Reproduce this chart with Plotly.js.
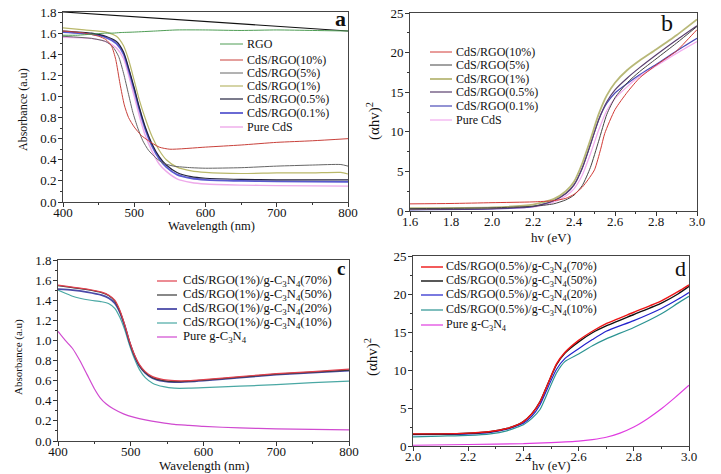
<!DOCTYPE html>
<html>
<head>
<meta charset="utf-8">
<script src="https://cdn.plot.ly/plotly-3.0.1.min.js"></script>
<style>html,body{margin:0;padding:0;background:#fff;}#chart{width:721px;height:474px;}</style>
</head>
<body>
<div id="chart"></div>
<script>
// ---------- Panel a : Absorbance vs Wavelength ----------
const aLabels = ["RGO","CdS/RGO(10%)","CdS/RGO(5%)","CdS/RGO(1%)","CdS/RGO(0.5%)","CdS/RGO(0.1%)","Pure CdS"];
const aRGO_x  = [400,420,440,460,470,480,500,530,560,600,650,700,750,800];
const aRGO_y  = [1.58,1.58,1.59,1.60,1.60,1.605,1.61,1.62,1.63,1.63,1.625,1.63,1.625,1.62];
const a10_x = [400,430,450,460,468,474,480,486,492,500,510,520,535,550,600,650,700,750,800];
const a10_y = [1.62,1.60,1.57,1.54,1.48,1.35,1.12,0.92,0.80,0.71,0.63,0.58,0.52,0.50,0.52,0.54,0.565,0.58,0.60];
const a5_x = [400,440,460,470,478,485,492,498,505,512,520,530,540,555,580,600,650,700,750,790,800];
const a5_y = [1.57,1.55,1.52,1.47,1.38,1.22,1.02,0.85,0.70,0.58,0.49,0.42,0.37,0.34,0.325,0.32,0.325,0.34,0.35,0.355,0.34];
const a1_x = [400,430,460,475,485,492,500,507,515,525,535,545,560,580,600,650,700,750,790,800];
const a1_y = [1.65,1.63,1.61,1.57,1.48,1.35,1.15,0.97,0.80,0.62,0.49,0.40,0.33,0.295,0.28,0.27,0.275,0.275,0.28,0.265];
const a05_x = [400,440,460,475,485,493,500,507,515,525,535,545,560,580,600,650,700,800];
const a05_y = [1.62,1.60,1.57,1.52,1.42,1.25,1.08,0.90,0.72,0.55,0.43,0.35,0.28,0.24,0.225,0.215,0.21,0.21];
const a01_x = [400,440,460,475,485,493,500,507,515,525,535,545,560,580,600,650,700,800];
const a01_y = [1.61,1.59,1.56,1.50,1.40,1.23,1.06,0.88,0.70,0.53,0.41,0.33,0.26,0.225,0.21,0.20,0.195,0.19];
const aCdS_x = [400,440,460,475,485,493,500,507,515,525,535,545,560,580,600,650,700,800];
const aCdS_y = [1.56,1.55,1.52,1.46,1.36,1.18,1.00,0.82,0.64,0.48,0.36,0.29,0.22,0.185,0.17,0.16,0.155,0.15];
const aFrame_x = [400,800];
const aFrame_y = [1.8,1.62];

// ---------- Panel b : (αhv)^2 vs hv ----------
const bLabels = ["CdS/RGO(10%)","CdS/RGO(5%)","CdS/RGO(1%)","CdS/RGO(0.5%)","CdS/RGO(0.1%)","Pure CdS"];
const b10_x = [1.6,1.8,2.0,2.2,2.3,2.36,2.4,2.44,2.47,2.5,2.53,2.55,2.6,2.66,2.72,2.8,2.9,2.96,3.0];
const b10_y = [0.9,0.95,1.05,1.15,1.3,1.6,2.1,3.0,4.0,5.2,7.8,9.8,12.8,15.0,16.8,18.4,20.2,21.8,22.9];
const b5_x = [1.6,2.0,2.2,2.3,2.36,2.4,2.44,2.48,2.52,2.56,2.6,2.66,2.72,2.8,2.9,3.0];
const b5_y = [0.3,0.4,0.6,0.9,1.4,2.0,3.2,5.5,8.8,12.2,14.3,16.2,17.6,19.2,21.2,23.3];
const b1_x = [1.6,2.0,2.2,2.3,2.36,2.4,2.44,2.48,2.52,2.56,2.6,2.66,2.72,2.8,2.9,3.0];
const b1_y = [0.35,0.45,0.8,1.5,2.5,3.7,6.0,9.0,12.2,14.6,16.2,17.8,19.0,20.4,22.2,24.2];
const b05_x = [1.6,2.0,2.2,2.3,2.36,2.4,2.44,2.48,2.52,2.56,2.6,2.66,2.72,2.8,2.9,3.0];
const b05_y = [0.2,0.3,0.6,1.3,2.2,3.3,5.4,8.4,11.5,13.8,15.3,16.8,18.1,19.7,21.6,23.4];
const b01_x = [1.6,2.0,2.2,2.3,2.36,2.4,2.44,2.48,2.52,2.56,2.6,2.66,2.72,2.8,2.9,3.0];
const b01_y = [0.15,0.25,0.55,1.3,2.2,3.3,5.4,8.4,11.5,13.6,14.9,16.1,17.2,18.5,20.2,21.8];
const bCdS_x = [1.6,2.0,2.2,2.3,2.36,2.4,2.44,2.48,2.52,2.56,2.6,2.66,2.72,2.8,2.9,3.0];
const bCdS_y = [0.2,0.3,0.5,1.1,1.9,2.8,4.5,7.2,10.2,12.7,14.2,15.7,17.0,18.3,19.9,21.4];

// ---------- Panel c : Absorbance vs Wavelength ----------
const c70_x = [400,420,440,460,470,478,485,492,498,505,512,520,530,545,560,580,600,650,700,750,800];
const c70_y = [1.55,1.53,1.51,1.48,1.45,1.40,1.30,1.15,1.00,0.86,0.76,0.69,0.64,0.61,0.60,0.60,0.61,0.64,0.67,0.69,0.715];
const c50_x = [400,420,440,460,470,478,485,492,498,505,512,520,530,545,560,580,600,650,700,750,800];
const c50_y = [1.545,1.525,1.505,1.475,1.445,1.39,1.29,1.14,0.99,0.85,0.75,0.68,0.63,0.60,0.59,0.595,0.605,0.635,0.665,0.685,0.705];
const c20_x = [400,420,440,460,470,478,485,492,498,505,512,520,530,545,560,580,600,650,700,750,800];
const c20_y = [1.51,1.50,1.48,1.45,1.42,1.37,1.28,1.14,0.99,0.85,0.745,0.675,0.625,0.595,0.585,0.59,0.60,0.63,0.66,0.68,0.70];
const c10_x = [400,410,420,430,445,460,470,478,485,492,498,505,512,520,530,545,560,580,600,650,700,750,800];
const c10_y = [1.50,1.47,1.44,1.42,1.40,1.385,1.365,1.32,1.23,1.10,0.96,0.82,0.71,0.63,0.575,0.54,0.525,0.525,0.53,0.545,0.56,0.58,0.595];
const cCN_x = [400,410,420,430,440,450,458,466,476,490,505,520,540,560,580,600,650,700,750,800];
const cCN_y = [1.09,1.00,0.92,0.80,0.66,0.52,0.43,0.37,0.32,0.27,0.235,0.21,0.185,0.165,0.155,0.145,0.13,0.12,0.115,0.11];

// ---------- Panel d : (αhv)^2 vs hv ----------
const d70_x = [2.0,2.1,2.2,2.28,2.34,2.38,2.4,2.43,2.46,2.49,2.52,2.55,2.6,2.65,2.7,2.8,2.9,2.96,3.0];
const d70_y = [1.6,1.6,1.7,1.9,2.3,2.8,3.2,4.2,5.8,8.3,10.8,12.3,13.9,15.1,16.1,17.6,19.1,20.3,21.2];
const d50_x = [2.0,2.1,2.2,2.28,2.34,2.38,2.4,2.43,2.46,2.49,2.52,2.55,2.6,2.65,2.7,2.8,2.9,2.96,3.0];
const d50_y = [1.55,1.58,1.68,1.88,2.3,2.8,3.2,4.2,5.8,8.3,10.7,12.2,13.7,14.9,15.8,17.3,18.8,20.0,21.0];
const d20_x = [2.0,2.1,2.2,2.28,2.34,2.38,2.4,2.43,2.46,2.49,2.52,2.55,2.6,2.65,2.7,2.8,2.9,2.96,3.0];
const d20_y = [1.5,1.52,1.6,1.8,2.2,2.7,3.0,3.9,5.4,7.8,10.1,11.5,12.8,14.0,15.1,16.5,18.1,19.3,20.2];
const d10_x = [2.0,2.1,2.2,2.28,2.34,2.38,2.4,2.43,2.46,2.49,2.52,2.55,2.6,2.65,2.7,2.8,2.9,2.96,3.0];
const d10_y = [1.2,1.3,1.4,1.6,2.0,2.5,2.8,3.6,4.8,7.2,9.6,11.1,12.1,13.2,14.1,15.6,17.4,18.8,19.7];
const dCN_x = [2.0,2.2,2.4,2.5,2.6,2.65,2.7,2.75,2.8,2.85,2.9,2.95,3.0];
const dCN_y = [0.1,0.2,0.3,0.45,0.65,0.85,1.15,1.7,2.5,3.6,4.9,6.4,8.0];

const cLabels = ["CdS/RGO(1%)/g-C<sub>3</sub>N<sub>4</sub>(70%)","CdS/RGO(1%)/g-C<sub>3</sub>N<sub>4</sub>(50%)","CdS/RGO(1%)/g-C<sub>3</sub>N<sub>4</sub>(20%)","CdS/RGO(1%)/g-C<sub>3</sub>N<sub>4</sub>(10%)","Pure g-C<sub>3</sub>N<sub>4</sub>"];
const dLabels = ["CdS/RGO(0.5%)/g-C<sub>3</sub>N<sub>4</sub>(70%)","CdS/RGO(0.5%)/g-C<sub>3</sub>N<sub>4</sub>(50%)","CdS/RGO(0.5%)/g-C<sub>3</sub>N<sub>4</sub>(20%)","CdS/RGO(0.5%)/g-C<sub>3</sub>N<sub>4</sub>(10%)","Pure g-C<sub>3</sub>N<sub>4</sub>"];

// ---------- styles ----------
const aColors = ["#4f9d55","#c9413b","#666666","#b9b86a","#22223e","#5a5ad0","#eeaaea"];
const aWidths = [1,1,1,1.2,1.2,1.8,1.4];
const bColors = ["#d23a36","#444444","#b8b878","#5a3f6e","#4a4ab8","#f2aaee"];
const bWidths = [1,1,1.8,1.2,1.2,1.2];
const cColors = ["#e0404e","#3a3a3a","#4a4aa8","#4aa8a4","#d04ad0"];
const cWidths = [1.2,1.2,1.8,1.2,1.2];
const dColors = ["#ee1515","#111111","#2222cc","#2b9392","#e03ce0"];
const dWidths = [1.4,1.4,1.2,1.2,1.2];

const W = 721, H = 474;
const PX = x => x / W, PY = y => 1 - y / H;
const FONT = "Liberation Serif, Times New Roman, serif";

function tr(x, y, color, width, xa, ya) {
  return {x: x, y: y, type: "scatter", mode: "lines", xaxis: xa, yaxis: ya,
          line: {color: color, width: width, shape: "spline", smoothing: 0.6},
          showlegend: false, hoverinfo: "skip"};
}

const traces = [];
traces.push({x: aFrame_x, y: aFrame_y, type: "scatter", mode: "lines", xaxis: "x", yaxis: "y",
             line: {color: "#111", width: 1.2}, showlegend: false, hoverinfo: "skip"});
const aSeries = [[aRGO_x,aRGO_y],[a10_x,a10_y],[a5_x,a5_y],[a1_x,a1_y],[a05_x,a05_y],[a01_x,a01_y],[aCdS_x,aCdS_y]];
aSeries.slice().reverse().forEach((s, k) => { const i = aSeries.length - 1 - k; traces.push(tr(s[0], s[1], aColors[i], aWidths[i], "x", "y")); });
const bSeries = [[b10_x,b10_y],[b5_x,b5_y],[b1_x,b1_y],[b05_x,b05_y],[b01_x,b01_y],[bCdS_x,bCdS_y]];
bSeries.slice().reverse().forEach((s, k) => { const i = bSeries.length - 1 - k; traces.push(tr(s[0], s[1], bColors[i], bWidths[i], "x2", "y2")); });
const cSeries = [[c70_x,c70_y],[c50_x,c50_y],[c20_x,c20_y],[c10_x,c10_y],[cCN_x,cCN_y]];
cSeries.slice().reverse().forEach((s, k) => { const i = cSeries.length - 1 - k; traces.push(tr(s[0], s[1], cColors[i], cWidths[i], "x3", "y3")); });
const dSeries = [[d70_x,d70_y],[d50_x,d50_y],[d20_x,d20_y],[d10_x,d10_y],[dCN_x,dCN_y]];
dSeries.slice().reverse().forEach((s, k) => { const i = dSeries.length - 1 - k; traces.push(tr(s[0], s[1], dColors[i], dWidths[i], "x4", "y4")); });

function axis(domain, range, dtick, minor, anchor, fmt, isX) {
  return {domain: domain, range: range, dtick: dtick, tick0: range[0], anchor: anchor,
          ticks: "outside", ticklen: 4, tickwidth: 1, tickcolor: "#333",
          ticklabelstandoff: isX ? -6 : -1,
          minor: {dtick: minor, ticks: "outside", ticklen: 2, tickwidth: 1, tickcolor: "#333"},
          showline: true, linecolor: "#444", linewidth: 1, mirror: true,
          showgrid: false, zeroline: false, tickformat: fmt,
          tickfont: {family: FONT, size: 13, color: "#111"}};
}

// manual legends
const shapes = [], annotations = [];
function legend(labels, colors, widths, x0, x1, xt, ys, fs) {
  labels.forEach((lab, i) => {
    shapes.push({type: "line", xref: "paper", yref: "paper", x0: PX(x0), x1: PX(x1), y0: PY(ys[i]), y1: PY(ys[i]),
                 line: {color: colors[i], width: widths[i]}});
    annotations.push({xref: "paper", yref: "paper", x: PX(xt), y: PY(ys[i]), xanchor: "left", yanchor: "middle",
                      text: lab, showarrow: false, font: {family: FONT, size: fs, color: "#111"}});
  });
}
legend(aLabels, aColors, aWidths, 220, 243, 245, [44, 60, 73, 86, 99, 113, 127], 12);
legend(bLabels, bColors, bWidths, 430, 452, 454, [52, 65, 79, 92, 106, 120], 12);
legend(cLabels, cColors, cWidths, 157, 177, 181, [281, 295, 309, 323, 337], 12.6);
legend(dLabels, dColors, dWidths, 421, 443, 444, [267, 281, 295, 310, 325], 12);

function label(text, x, y, size, angle, bold) {
  annotations.push({xref: "paper", yref: "paper", x: PX(x), y: PY(y), xanchor: "center", yanchor: "middle",
                    text: bold ? "<b>" + text + "</b>" : text, showarrow: false, textangle: angle || 0,
                    font: {family: FONT, size: size, color: "#111"}});
}
label("a", 340, 19, 22, 0, true);
label("b", 667, 23, 24, 0, false);
label("c", 341, 268, 19, 0, true);
label("d", 680, 268, 22, 0, false);
label("Wavelength (nm)", 211, 225.5, 12.5);
label("Wavelength (nm)", 204, 465, 13);
label("hv (eV)", 551, 237, 13);
label("hv (eV)", 551, 466, 12.5);
label("Absorbance (a.u)", 23, 110, 12, -90);
label("Absorbance (a.u)", 18, 357, 11, -90);
label("(αhv)<sup>2</sup>", 373, 121, 15, -90);
label("(αhv)<sup>2</sup>", 371, 357, 15, -90);

const layout = {
  width: W, height: H, margin: {l: 0, r: 0, t: 0, b: 0},
  paper_bgcolor: "#fff", plot_bgcolor: "#fff", showlegend: false,
  font: {family: FONT, color: "#111"},
  xaxis:  axis([PX(63), PX(348)], [400, 800], 100, 50, "y", "d", true),
  yaxis:  axis([PY(202), PY(12)], [0, 1.8], 0.2, 0.1, "x", ".1f", false),
  xaxis2: axis([PX(410), PX(697)], [1.6, 3.0], 0.2, 0.1, "y2", ".1f", true),
  yaxis2: axis([PY(211), PY(13)], [0, 25], 5, 2.5, "x2", "d", false),
  xaxis3: axis([PX(58), PX(349)], [400, 800], 100, 50, "y3", "d", true),
  yaxis3: axis([PY(441), PY(260)], [0, 1.8], 0.2, 0.1, "x3", ".1f", false),
  xaxis4: axis([PX(413), PX(689)], [2.0, 3.0], 0.2, 0.1, "y4", ".1f", true),
  yaxis4: axis([PY(446), PY(256)], [0, 25], 5, 2.5, "x4", "d", false),
  shapes: shapes, annotations: annotations
};

Plotly.newPlot("chart", traces, layout, {staticPlot: true, displayModeBar: false});
</script>
</body>
</html>
